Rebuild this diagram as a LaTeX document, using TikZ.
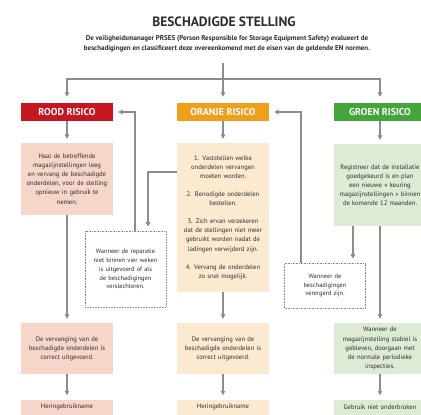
\documentclass[tikz,border=0pt]{standalone}
\usepackage{fontspec}
\setmainfont{PT Sans}
\usetikzlibrary{arrows.meta,calc}
\definecolor{rood}{RGB}{198,22,32}
\definecolor{oranje}{RGB}{240,158,30}
\definecolor{groen}{RGB}{68,165,58}
\definecolor{roodl}{RGB}{246,214,200}
\definecolor{oranjel}{RGB}{252,234,208}
\definecolor{groenl}{RGB}{221,235,212}
\definecolor{lijn}{RGB}{140,140,140}
\definecolor{tekst}{RGB}{45,45,45}
\begin{document}
\begin{tikzpicture}[x=1pt,y=-1pt,
  hdr/.style={minimum width=92pt,minimum height=18pt,inner sep=0pt,text=white,font=\bfseries\fontsize{10}{11}\selectfont},
  box/.style={minimum width=92pt,inner sep=0pt,align=center,text width=92pt,text=tekst,font=\fontsize{6.6}{9.1}\selectfont},
  dbox/.style={box,draw=lijn,densely dotted,line width=0.6pt,fill=white,minimum width=81pt,text width=81pt,font=\fontsize{6.4}{8.8}\selectfont},
  conn/.style={draw=lijn,line width=1.2pt,-{Triangle[length=4.5pt,width=4.5pt]},shorten >=4pt},
  plain/.style={draw=lijn,line width=1.2pt}]
\useasboundingbox (0,0) rectangle (421,415);
\clip (0,0) rectangle (421,415);
\fill[white] (0,0) rectangle (421,415);

\node[font=\bfseries\fontsize{13.5}{15}\selectfont,text=tekst] (title) at (224,22) {BESCHADIGDE STELLING};
\node[align=center,font=\bfseries\fontsize{7}{9.6}\selectfont,text=tekst] (sub) at (227,44)
  {De veiligheidsmanager PRSES (Person Responsible for Storage Equipment Safety) evalueert de\\
   beschadigingen en classificeert deze overeenkomend met de eisen van de geldende EN normen.};

\node[hdr,fill=rood] (rood) at (67,112) {ROOD RISICO};
\node[hdr,fill=oranje] (oranje) at (223,112) {ORANJE RISICO};
\node[hdr,fill=groen] (groen) at (380,112) {GROEN RISICO};

\node[box,fill=roodl,minimum height=72pt] (r1) at (67,179)
  {Haal de betreffende\\ magazijnstellingen leeg\\ en vervang de beschadigde\\ onderdelen, voor de stelling\\ opnieuw in gebruik te\\ nemen.};
\node[box,fill=oranjel,minimum height=149pt] (o1) at (223,217.5)
  {1. Vaststellen welke\\ onderdelen vervangen\\ moeten worden.\\[9.1pt]
   2. Benodigde onderdelen\\ bestellen.\\[9.1pt]
   3. Zich ervan verzekeren\\ dat de stellingen niet meer\\ gebruikt worden nadat de\\ ladingen verwijderd zijn.\\[9.1pt]
   4. Vervang de onderdelen\\ zo snel mogelijk.};
\node[box,fill=groenl,minimum height=82pt] (g1) at (380,185)
  {Registreer dat de installatie\\ goedgekeurd is en plan\\ een nieuwe « keuring\\ magazijnstellingen » binnen\\ de komende 12 maanden.};

\node[dbox,minimum height=76pt] (d1) at (125.5,269)
  {Wanneer de reparatie\\ niet binnen vier weken\\ is uitgevoerd of als\\ de beschadigingen\\ verslechteren.};
\node[dbox,minimum height=45pt,minimum width=80pt] (d2) at (325,285.5)
  {Wanneer de\\ beschadigingen\\ verergerd zijn.};

\node[box,fill=roodl,minimum height=51pt] (r2) at (67,348.5)
  {De vervanging van de\\ beschadigde onderdelen is\\ correct uitgevoerd.};
\node[box,fill=oranjel,minimum height=51pt] (o2) at (223,348.5)
  {De vervanging van de\\ beschadigde onderdelen is\\ correct uitgevoerd.};
\node[box,fill=groenl,minimum height=51pt] (g2) at (380,348.5)
  {Wanneer de\\ magazijnstelling stabiel is\\ gebleven, doorgaan met\\ de normale periodieke\\ inspecties.};

\node[box,fill=roodl,minimum height=15pt] (r3) at (67,407) {Heringebruikname};
\node[box,fill=oranjel,minimum height=15pt] (o3) at (223,407) {Heringebruikname};
\node[box,fill=groenl,minimum height=15pt] (g3) at (380,407) {Gebruik niet onderbroken};

% top distribution
\coordinate (stem) at (223,63);
\coordinate (split) at (223,79);
\draw[plain] (stem) -- (split);
\draw[conn,shorten >=6pt] (split) -| (rood.north);
\draw[conn,shorten >=6pt] (split) -- (oranje.north);
\draw[conn,shorten >=6pt] (split) -| (groen.north);

% columns
\draw[conn] (rood) -- (r1);
\draw[conn] (r1) -- (r2);
\draw[conn] (r2) -- (r3);
\draw[conn] (oranje) -- (o1);
\draw[conn] (o1) -- (o2);
\draw[conn] (o2) -- (o3);
\draw[conn] (groen) -- (g1);
\draw[conn] (g1) -- (g2);
\draw[conn] (g2) -- (g3);

% escalation paths
\draw[conn] (o1.west |- 0,172) -| ([xshift=22.5pt]d1.north);
\draw[conn,shorten >=5pt] ([xshift=9.5pt]d1.north) |- (rood.east);
\draw[conn] ([xshift=-27pt]g1.south) -- ([xshift=-27pt]g1.south |- d2.north);
\draw[conn,shorten >=5pt] ([xshift=-24pt]d2.north) |- (oranje.east);
\end{tikzpicture}
\end{document}
